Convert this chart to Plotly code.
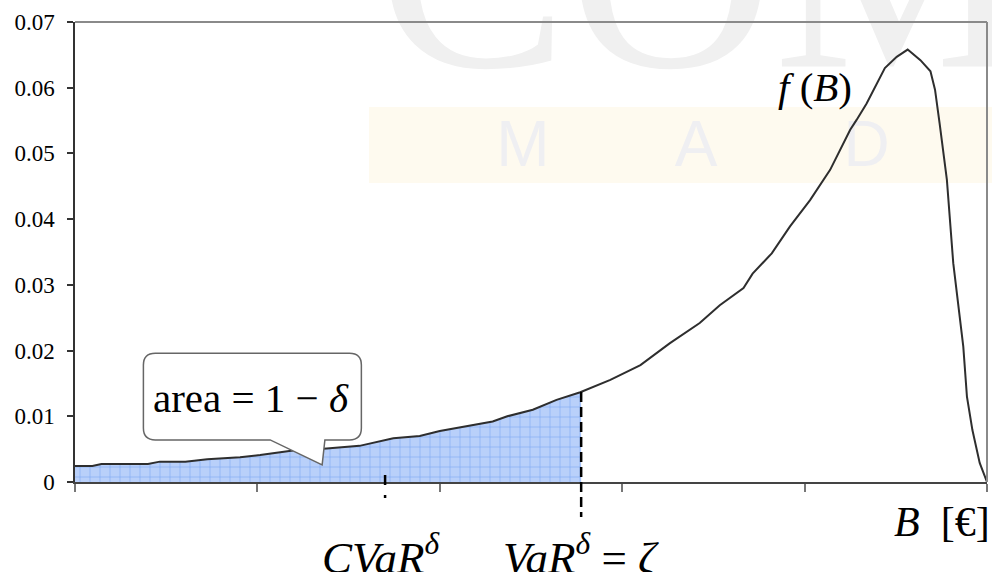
import numpy as np
import plotly.graph_objects as go

# Profit B (arbitrary units across the axis) and its density f(B)
B = [0, 19, 29, 80, 93, 121, 145, 181, 203, 239,
     276, 312, 349, 378, 400, 430, 458, 474, 502, 528,
     554, 587, 620, 652, 685, 707, 733, 743, 764, 784,
     806, 828, 850, 857, 868, 888, 901, 913, 927, 938,
     943, 948, 956, 963, 970, 974, 978, 984, 992, 1000]
f_B = [0.00244, 0.00244, 0.00274, 0.00274, 0.0031, 0.0031, 0.00345, 0.00376, 0.0041, 0.0048,
       0.0051, 0.0055, 0.00665, 0.0070, 0.00776, 0.0085, 0.0092, 0.0100, 0.0110, 0.0125,
       0.01365, 0.01553, 0.0178, 0.0211, 0.0242, 0.0269, 0.0295, 0.0317, 0.0348, 0.0389,
       0.0429, 0.0475, 0.0536, 0.0551, 0.0576, 0.0630, 0.0647, 0.0658, 0.0642, 0.0625,
       0.0597, 0.0546, 0.0460, 0.0333, 0.0257, 0.0206, 0.0130, 0.0079, 0.0029, 0.0]

VAR = 555     # VaR (= zeta), left tail area 1 - delta ends here
CVAR = 340    # conditional VaR
X_TICKS = [0, 200, 400, 600, 800, 1000]
Y_TICKS = [0, 0.01, 0.02, 0.03, 0.04, 0.05, 0.06, 0.07]
X_RANGE = [0, 1000]
Y_RANGE = [0, 0.07]

SERIF = "Liberation Serif"

B_arr = np.array(B, dtype=float)
f_arr = np.array(f_B, dtype=float)
f_at_var = float(np.interp(VAR, B_arr, f_arr))
tail_x = np.append(B_arr[B_arr < VAR], VAR)
tail_y = np.append(f_arr[B_arr < VAR], f_at_var)

fig = go.Figure()

# faint background lettering
fig.add_trace(go.Scatter(
    x=[332], y=[0.0524], mode="text", text=["COMILLAS"],
    textposition="top right", cliponaxis=False, hoverinfo="skip", showlegend=False,
    textfont=dict(family=SERIF, size=285, color="#f0f0f0")))
fig.add_trace(go.Scatter(
    x=[491, 681, 868], y=[0.0505, 0.0505, 0.0505], mode="text", text=["M", "A", "D"],
    textposition="middle center", cliponaxis=False, hoverinfo="skip", showlegend=False,
    textfont=dict(family="Liberation Sans", size=64, color="#efeff2")))

# shaded left tail up to VaR
fig.add_trace(go.Scatter(
    x=tail_x, y=tail_y, mode="lines", fill="tozeroy",
    line=dict(width=0, color="rgba(0,0,0,0)"),
    fillcolor="#b7cffa",
    fillpattern=dict(shape="+", size=10, solidity=0.12,
                     fgcolor="#7fa7f2", bgcolor="#b9d0fa", fillmode="replace"),
    hoverinfo="skip", showlegend=False))

# density curve
fig.add_trace(go.Scatter(
    x=B, y=f_B, mode="lines", line=dict(color="#2e2e2e", width=2),
    hoverinfo="skip", showlegend=False))

# callout box with pointer into the shaded tail
x0, x1, y0, y1 = 75, 314, 0.0064, 0.0196
rx, ry = 13, 0.0018
callout = (
    f"M {x0 + rx},{y1} L {x1 - rx},{y1} Q {x1},{y1} {x1},{y1 - ry} "
    f"L {x1},{y0 + ry} Q {x1},{y0} {x1 - rx},{y0} "
    f"L 274,{y0} L 271,0.0026 L 214,{y0} "
    f"L {x0 + rx},{y0} Q {x0},{y0} {x0},{y0 + ry} "
    f"L {x0},{y1 - ry} Q {x0},{y1} {x0 + rx},{y1} Z"
)

xspan = X_RANGE[1] - X_RANGE[0]
yspan = Y_RANGE[1] - Y_RANGE[0]
shapes = [
    # pale band behind the plot
    dict(type="rect", xref="paper", yref="paper", x0=0.3224, x1=1.1, y0=0.65, y1=0.8152,
         fillcolor="#fefaef", line=dict(width=0), layer="below"),
    # top and right frame
    dict(type="line", xref="paper", yref="paper", x0=0, x1=1, y0=1, y1=1,
         line=dict(color="#8a8a8a", width=2)),
    dict(type="line", xref="paper", yref="paper", x0=1, x1=1, y0=0, y1=1,
         line=dict(color="#8a8a8a", width=2)),
    # callout
    dict(type="path", xref="x", yref="y", path=callout, fillcolor="white",
         line=dict(color="#666666", width=1.5)),
    # VaR marker line, continuing below the axis
    dict(type="line", xref="x domain", yref="y domain",
         x0=(VAR - X_RANGE[0]) / xspan, x1=(VAR - X_RANGE[0]) / xspan,
         y0=(f_at_var - Y_RANGE[0]) / yspan, y1=-0.076,
         line=dict(color="black", width=2.5, dash="10px,5px")),
    # CVaR marker below the axis
    dict(type="line", xref="x domain", yref="y domain",
         x0=(CVAR - X_RANGE[0]) / xspan, x1=(CVAR - X_RANGE[0]) / xspan,
         y0=0.015, y1=-0.037,
         line=dict(color="black", width=2.5, dash="10px,10px,3px,20px")),
]

annotations = [
    dict(text="area = 1 − <i>δ</i>", x=0.193, y=0.1826, xref="paper", yref="paper",
         xanchor="center", yanchor="middle", showarrow=False,
         font=dict(family=SERIF, size=41, color="black")),
    dict(text="<i>f</i> (<i>B</i>)", x=0.8114, y=0.858, xref="paper", yref="paper",
         xanchor="center", yanchor="middle", showarrow=False,
         font=dict(family=SERIF, size=41, color="black")),
    dict(text="<i>B</i>  [€]", x=0.9507, y=-0.087, xref="paper", yref="paper",
         xanchor="center", yanchor="middle", showarrow=False,
         font=dict(family=SERIF, size=42, color="black")),
    dict(text="<i>CVaR</i><sup><i>δ</i></sup>", x=0.269, y=-0.0913, xref="paper", yref="paper",
         xanchor="left", yanchor="top", showarrow=False,
         font=dict(family=SERIF, size=45, color="black")),
    dict(text="<i>VaR</i><sup><i>δ</i></sup> = <i>ζ</i>", x=0.467, y=-0.0913, xref="paper", yref="paper",
         xanchor="left", yanchor="top", showarrow=False,
         font=dict(family=SERIF, size=45, color="black")),
]

fig.update_layout(
    width=992, height=572,
    margin=dict(l=75, r=5, t=22, b=90),
    paper_bgcolor="white", plot_bgcolor="white",
    shapes=shapes, annotations=annotations,
    xaxis=dict(range=X_RANGE, tickvals=X_TICKS, showticklabels=False,
               ticks="outside", ticklen=8, tickwidth=1.5, tickcolor="#777777",
               showline=True, linecolor="#444444", linewidth=2,
               showgrid=False, zeroline=False, fixedrange=True),
    yaxis=dict(range=Y_RANGE, tickvals=Y_TICKS, ticks="outside", ticklen=6,
               tickwidth=1.5, tickcolor="#333333",
               showline=True, linecolor="#333333", linewidth=1.5,
               showgrid=False, zeroline=False, ticklabelstandoff=8,
               tickfont=dict(family=SERIF, size=23, color="black"), fixedrange=True),
)

fig.write_html("out.html")
